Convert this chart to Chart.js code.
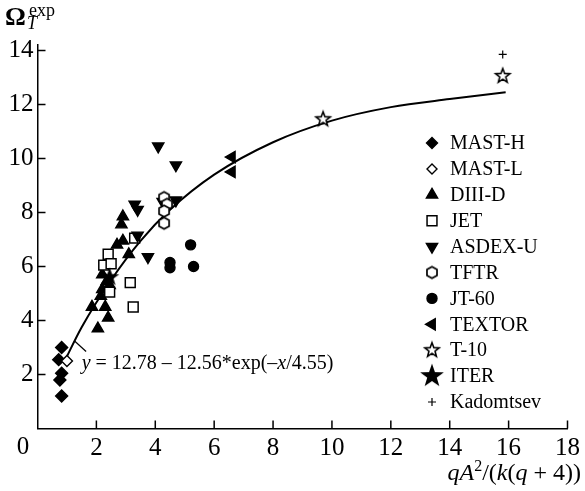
<!DOCTYPE html>
<html><head><meta charset="utf-8">
<script src="https://cdn.jsdelivr.net/npm/chart.js@4/dist/chart.umd.min.js"></script>
<style>html,body{margin:0;padding:0;background:#fff;}canvas{display:block;}</style>
</head><body>
<canvas id="c" width="585" height="491" style="width:585px;height:491px"></canvas>
<script>
// ---- data ----
const xTicks = [0, 2, 4, 6, 8, 10, 12, 14, 16, 18];
const yTicks = [2, 4, 6, 8, 10, 12, 14];
const MAST_H = [[0.82, 3.0], [0.72, 2.55], [0.82, 2.05], [0.76, 1.8], [0.82, 1.2]];
const MAST_L = [[1.0, 2.5]];
const DIII_D = [[2.9, 7.85], [2.85, 7.55], [2.9, 6.95], [2.7, 6.8], [3.1, 6.45], [2.2, 5.7], [2.35, 5.45],
                [2.45, 5.3], [2.2, 5.15], [2.15, 4.9], [1.85, 4.5], [2.3, 4.5], [2.4, 4.1], [2.05, 3.7]];
const JET = [[3.3, 7.05], [2.4, 6.45], [2.25, 6.05], [2.5, 6.1], [2.45, 5.05], [3.15, 5.4], [3.25, 4.5]];
const ASDEX_U = [[4.1, 10.45], [4.7, 9.75], [3.3, 8.3], [3.4, 8.1], [4.25, 8.4], [4.7, 8.45], [3.4, 7.15], [3.75, 6.35]];
const TFTR = [[4.3, 8.55], [4.4, 8.3], [4.3, 8.05], [4.3, 7.6]];
const JT_60 = [[4.5, 6.15], [4.5, 5.95], [5.3, 6.0], [5.2, 6.8]];
const TEXTOR = [[6.6, 10.05], [6.6, 9.5]];
const T_10 = [[9.7, 11.45], [15.8, 13.05]];
const ITER = [[2.45, 5.6]];
const KADOMTSEV = [[15.8, 13.85]];
const fitX = [0.9, 1.5, 2.5, 3.5, 4.5, 6, 8, 10, 12, 14, 15.9];
const fitY = [2.45, 3.75, 5.5, 6.95, 8.1, 9.4, 10.6, 11.4, 11.9, 12.2, 12.45];
const fitLabel = ['y', ' = 12.78 \u2013 12.56*exp(\u2013', 'x', '/4.55)'];
const legendNames = ['MAST-H', 'MAST-L', 'DIII-D', 'JET', 'ASDEX-U', 'TFTR', 'JT-60', 'TEXTOR', 'T-10', 'ITER', 'Kadomtsev'];

// ---- marker images ----
function mk(size, draw) {
  const c = document.createElement('canvas');
  c.width = c.height = size;
  const g = c.getContext('2d');
  g.translate(size / 2, size / 2);
  draw(g);
  return c;
}
function starPath(g, R, r) {
  g.beginPath();
  for (let k = 0; k < 10; k++) {
    const a = -Math.PI / 2 + k * Math.PI / 5;
    const rr = k % 2 ? r : R;
    g.lineTo(Math.cos(a) * rr, Math.sin(a) * rr);
  }
  g.closePath();
}
function hexPath(g, R) {
  g.beginPath();
  for (let k = 0; k < 6; k++) {
    const a = -Math.PI / 2 + k * Math.PI / 3;
    g.lineTo(Math.cos(a) * R, Math.sin(a) * R);
  }
  g.closePath();
}
const hexImg = mk(16, g => { hexPath(g, 5.8); g.fillStyle = '#fff'; g.fill(); g.lineWidth = 1.7; g.strokeStyle = '#000'; g.stroke(); });
const openStarImg = mk(20, g => { starPath(g, 7.5, 3.2); g.fillStyle = '#fff'; g.fill(); g.lineWidth = 1.6; g.strokeStyle = '#000'; g.stroke(); });
const iterImg = mk(24, g => { starPath(g, 10, 4); g.fillStyle = '#000'; g.fill(); });
const iterLegImg = mk(28, g => { starPath(g, 12.5, 5); g.fillStyle = '#000'; g.fill(); });

const pts = a => a.map(p => ({x: p[0], y: p[1]}));
const base = {showLine: false, borderColor: '#000', borderWidth: 1.4};
const series = [
  {label: 'MAST-H', data: pts(MAST_H), pointStyle: 'rectRot', pointRadius: 6, backgroundColor: '#000', rotation: 0},
  {label: 'MAST-L', data: pts(MAST_L), pointStyle: 'rectRot', pointRadius: 5.5, backgroundColor: '#fff', rotation: 0},
  {label: 'DIII-D', data: pts(DIII_D), pointStyle: 'triangle', pointRadius: 6.5, backgroundColor: '#000', rotation: 0},
  {label: 'JET', data: pts(JET), pointStyle: 'rect', pointRadius: 7, backgroundColor: '#fff', rotation: 0, borderWidth: 1.5},
  {label: 'ASDEX-U', data: pts(ASDEX_U), pointStyle: 'triangle', pointRadius: 6.5, backgroundColor: '#000', rotation: 180},
  {label: 'TFTR', data: pts(TFTR), pointStyle: hexImg, pointRadius: 6, backgroundColor: '#fff'},
  {label: 'JT-60', data: pts(JT_60), pointStyle: 'circle', pointRadius: 5, backgroundColor: '#000'},
  {label: 'TEXTOR', data: pts(TEXTOR), pointStyle: 'triangle', pointRadius: 6.5, backgroundColor: '#000', rotation: 270},
  {label: 'T-10', data: pts(T_10), pointStyle: openStarImg, pointRadius: 7, backgroundColor: '#fff'},
  {label: 'ITER', data: pts(ITER), pointStyle: iterImg, pointRadius: 9, backgroundColor: '#000'},
  {label: 'Kadomtsev', data: pts(KADOMTSEV), pointStyle: 'cross', pointRadius: 4, backgroundColor: '#000', borderWidth: 1.2}
].map((d, i) => Object.assign({}, base, d, {pointHoverRadius: d.pointRadius, order: 20 - i}));

const fit = {
  type: 'line', label: 'fit', data: fitX.map((x, i) => ({x, y: fitY[i]})),
  showLine: true, borderColor: '#000', borderWidth: 2, pointRadius: 0, fill: false,
  cubicInterpolationMode: 'monotone', order: 30
};

const SERIF = '"Liberation Serif", "Times New Roman", serif';

function drawMixed(ctx, parts, x, y) {
  let cx = x;
  for (const [t, f, dy] of parts) {
    ctx.font = f;
    ctx.fillText(t, cx, y + (dy || 0));
    cx += ctx.measureText(t).width;
  }
  return cx;
}
function widthMixed(ctx, parts) {
  let w = 0;
  for (const [t, f] of parts) { ctx.font = f; w += ctx.measureText(t).width; }
  return w;
}

const deco = {
  id: 'deco',
  afterDraw(chart) {
    const ctx = chart.ctx, xs = chart.scales.x, ys = chart.scales.y;
    const ca = chart.chartArea;
    ctx.save();
    ctx.strokeStyle = '#000';
    ctx.fillStyle = '#000';
    ctx.lineWidth = 1.5;
    // inward ticks
    ctx.beginPath();
    xTicks.forEach(v => { if (v === 0) return; const px = xs.getPixelForValue(v); ctx.moveTo(px, ca.bottom); ctx.lineTo(px, ca.bottom - 8); });
    yTicks.forEach(v => { const py = ys.getPixelForValue(v); ctx.moveTo(ca.left, py); ctx.lineTo(ca.left + 8, py); });
    ctx.stroke();
    // origin label
    ctx.font = '25px ' + SERIF;
    ctx.textAlign = 'center'; ctx.textBaseline = 'middle';
    ctx.fillText('0', 23, ca.bottom + 19);
    // y title
    ctx.textAlign = 'left'; ctx.textBaseline = 'alphabetic';
    ctx.font = 'bold 26px ' + SERIF; ctx.fillText('\u03A9', 5, 25);
    ctx.font = 'italic 18px ' + SERIF; ctx.fillText('T', 27, 29);
    ctx.font = '18px ' + SERIF; ctx.fillText('exp', 29, 16);
    // x title
    const R = '24px ' + SERIF, I = 'italic 24px ' + SERIF, S = '16px ' + SERIF;
    const xt = [['q', I], ['A', I], ['2', S, -9], ['/(', R], ['k', I], ['(', R], ['q', I], [' + 4))', R]];
    const w = widthMixed(ctx, xt);
    drawMixed(ctx, xt, 581 - w, 480);
    // fit annotation
    const F = '20px ' + SERIF, FI = 'italic 20px ' + SERIF;
    ctx.textBaseline = 'middle';
    drawMixed(ctx, [[fitLabel[0], FI], [fitLabel[1], F], [fitLabel[2], FI], [fitLabel[3], F]],
              xs.getPixelForValue(1.5), ys.getPixelForValue(2.4));
    ctx.lineWidth = 1.2;
    ctx.beginPath();
    ctx.moveTo(xs.getPixelForValue(1.25), ys.getPixelForValue(3.25));
    ctx.lineTo(xs.getPixelForValue(1.65), ys.getPixelForValue(2.85));
    ctx.stroke();
    // legend
    const metas = chart.data.datasets;
    ctx.font = '20px ' + SERIF;
    ctx.textAlign = 'left'; ctx.textBaseline = 'middle';
    legendNames.forEach((name, i) => {
      const ds = metas[i];
      const y = 143 + i * 25.9, x = 432;
      let style = ds.pointStyle, r = ds.pointRadius;
      if (name === 'ITER') style = iterLegImg;
      const opts = {pointStyle: style, radius: name === 'MAST-L' ? 5 : (name === 'MAST-H' ? 5.5 : r), rotation: ds.rotation || 0, borderWidth: ds.borderWidth};
      ctx.fillStyle = ds.backgroundColor; ctx.strokeStyle = '#000'; ctx.lineWidth = ds.borderWidth;
      Chart.helpers.drawPoint(ctx, opts, x, y);
      ctx.fillStyle = '#000';
      ctx.fillText(name, 450, y + 1);
    });
    ctx.restore();
  }
};

new Chart(document.getElementById('c'), {
  type: 'scatter',
  data: {datasets: [...series, fit]},
  options: {
    responsive: false, animation: false, devicePixelRatio: 1,
    layout: {padding: {top: 45, right: 14, left: 0, bottom: 0}},
    plugins: {legend: {display: false}, tooltip: {enabled: false}},
    scales: {
      x: {
        type: 'linear', min: 0, max: 18,
        afterFit: s => { s.height = 62.5; },
        grid: {display: true, drawOnChartArea: false, drawTicks: false, color: 'rgba(0,0,0,0)'},
        border: {display: true, color: '#000', width: 1.5},
        ticks: {stepSize: 2, padding: 5, color: '#000', font: {family: SERIF, size: 25},
                callback: v => (v === 0 ? '' : v), maxRotation: 0, autoSkip: false}
      },
      y: {
        type: 'linear', min: 0, max: 14.2,
        afterFit: s => { s.width = 37.5; },
        grid: {display: true, drawOnChartArea: false, drawTicks: false, color: 'rgba(0,0,0,0)'},
        border: {display: true, color: '#000', width: 1.5},
        ticks: {stepSize: 2, padding: 4, color: '#000', includeBounds: false, font: {family: SERIF, size: 25},
                callback: v => (v === 0 ? '' : v)}
      }
    }
  },
  plugins: [deco]
});
</script>
</body></html>
